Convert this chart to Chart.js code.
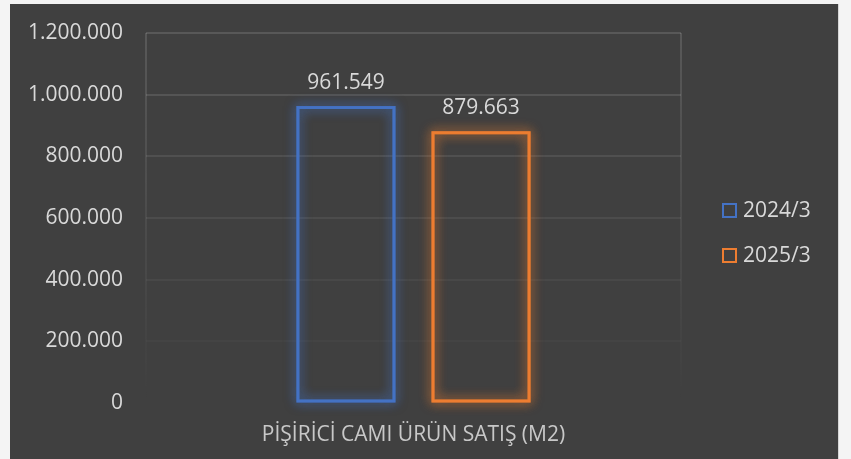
<!DOCTYPE html>
<html>
<head>
<meta charset="utf-8">
<script src="https://cdn.jsdelivr.net/npm/chart.js@4"></script>
<style>
  html, body { margin: 0; padding: 0; background: #f4f4f4; }
  #wrap {
    position: absolute; left: 10px; top: 4px;
    width: 828px; height: 455px;
    background: #404040;
    box-shadow: 1px 0 0 #d6d6d6;
  }
</style>
</head>
<body>
<div id="wrap"><canvas id="salesChart"></canvas></div>
<script>
// Datos del gráfico
const categories = ['PİŞİRİCİ CAMI ÜRÜN SATIŞ (M2)'];
const seriesNames = ['2024/3', '2025/3'];
const sales2024 = [961549];
const sales2025 = [879663];
const seriesColors = ['#4472C4', '#ED7D31'];
const glowColors = ['rgba(68,114,196,0.8)', 'rgba(237,125,49,0.8)'];
const yMax = 1200000;
const yStep = 200000;

const textColor = '#d9d9d9';
const fontFamily = '"Open Sans", "Noto Sans", sans-serif';

// formato con puntos como separador de miles
function fmt(v) {
  return String(Math.round(v)).replace(/\B(?=(\d{3})+(?!\d))/g, '.');
}

// brillo alrededor de las barras
const glowPlugin = {
  id: 'glow',
  beforeDatasetsDraw(chart) {
    const ctx = chart.ctx;
    chart.data.datasets.forEach((ds, i) => {
      const meta = chart.getDatasetMeta(i);
      meta.data.forEach(bar => {
        const p = bar.getProps(['x', 'y', 'base', 'width'], true);
        ctx.save();
        ctx.shadowColor = glowColors[i];
        ctx.shadowBlur = 12;
        ctx.strokeStyle = glowColors[i];
        ctx.lineWidth = 3;
        for (let k = 0; k < 2; k++) {
          ctx.strokeRect(p.x - p.width / 2 + 1, p.y + 1, p.width - 2, p.base - p.y - 2);
        }
        ctx.restore();
      });
    });
  }
};

// etiquetas de valor encima de las barras
const valueLabels = {
  id: 'valueLabels',
  afterDatasetsDraw(chart) {
    const ctx = chart.ctx;
    ctx.save();
    ctx.font = '21px ' + fontFamily;
    ctx.fillStyle = textColor;
    ctx.textAlign = 'center';
    ctx.textBaseline = 'alphabetic';
    chart.data.datasets.forEach((ds, i) => {
      chart.getDatasetMeta(i).data.forEach((bar, j) => {
        ctx.fillText(fmt(ds.data[j]), bar.x, bar.y - 18);
      });
    });
    ctx.restore();
  }
};

// leyenda a la derecha
const sideLegend = {
  id: 'sideLegend',
  afterDraw(chart) {
    const ctx = chart.ctx;
    const area = chart.chartArea;
    const x = area.right + 42;
    const y0 = 206.5;
    const gap = 45;
    ctx.save();
    ctx.font = '21px ' + fontFamily;
    ctx.textBaseline = 'middle';
    chart.data.datasets.forEach((ds, i) => {
      const cy = y0 + i * gap;
      ctx.strokeStyle = ds.borderColor;
      ctx.lineWidth = 2;
      ctx.strokeRect(x, cy - 6.5, 13, 13);
      ctx.fillStyle = textColor;
      ctx.fillText(ds.label, x + 20, cy + 1);
    });
    ctx.restore();
  }
};

const ctx = document.getElementById('salesChart');

new Chart(ctx, {
  type: 'bar',
  data: {
    labels: categories,
    datasets: [
      {
        label: seriesNames[0],
        data: sales2024,
        backgroundColor: 'rgba(0,0,0,0)',
        borderColor: seriesColors[0],
        borderWidth: 2,
        borderSkipped: false
      },
      {
        label: seriesNames[1],
        data: sales2025,
        backgroundColor: 'rgba(0,0,0,0)',
        borderColor: seriesColors[1],
        borderWidth: 2,
        borderSkipped: false
      }
    ]
  },
  options: {
    responsive: true,
    maintainAspectRatio: false,
    animation: false,
    categoryPercentage: 0.505,
    barPercentage: 0.726,
    layout: { padding: { top: 29, right: 157, left: 0, bottom: 0 } },
    plugins: {
      legend: { display: false },
      tooltip: { enabled: false }
    },
    scales: {
      x: {
        afterFit(scale) { scale.height = 56; scale.paddingLeft = 0; scale.paddingRight = 0; },
        border: { display: false },
        grid: {
          offset: true,
          drawTicks: false,
          lineWidth: 2,
          color(c) {
            const a = c.chart.chartArea;
            if (!a) return 'rgba(255,255,255,0.12)';
            const g = c.chart.ctx.createLinearGradient(0, a.top, 0, a.bottom);
            g.addColorStop(0, 'rgba(255,255,255,0.13)');
            g.addColorStop(1, 'rgba(255,255,255,0)');
            return g;
          }
        },
        ticks: {
          color: '#c8c8c8',
          font: { family: fontFamily, size: 21 },
          padding: 19
        }
      },
      y: {
        min: 0,
        max: yMax,
        afterFit(scale) { scale.width = 136; scale.paddingTop = 0; scale.paddingBottom = 0; },
        border: { display: false },
        grid: {
          drawTicks: false,
          lineWidth: 2,
          color(c) {
            const v = c.tick ? c.tick.value : 0;
            return 'rgba(255,255,255,' + (0.13 * v / yMax).toFixed(3) + ')';
          }
        },
        ticks: {
          stepSize: yStep,
          color: textColor,
          padding: 23,
          font: { family: fontFamily, size: 21 },
          callback: v => fmt(v)
        }
      }
    }
  },
  plugins: [glowPlugin, valueLabels, sideLegend]
});
</script>
</body>
</html>
